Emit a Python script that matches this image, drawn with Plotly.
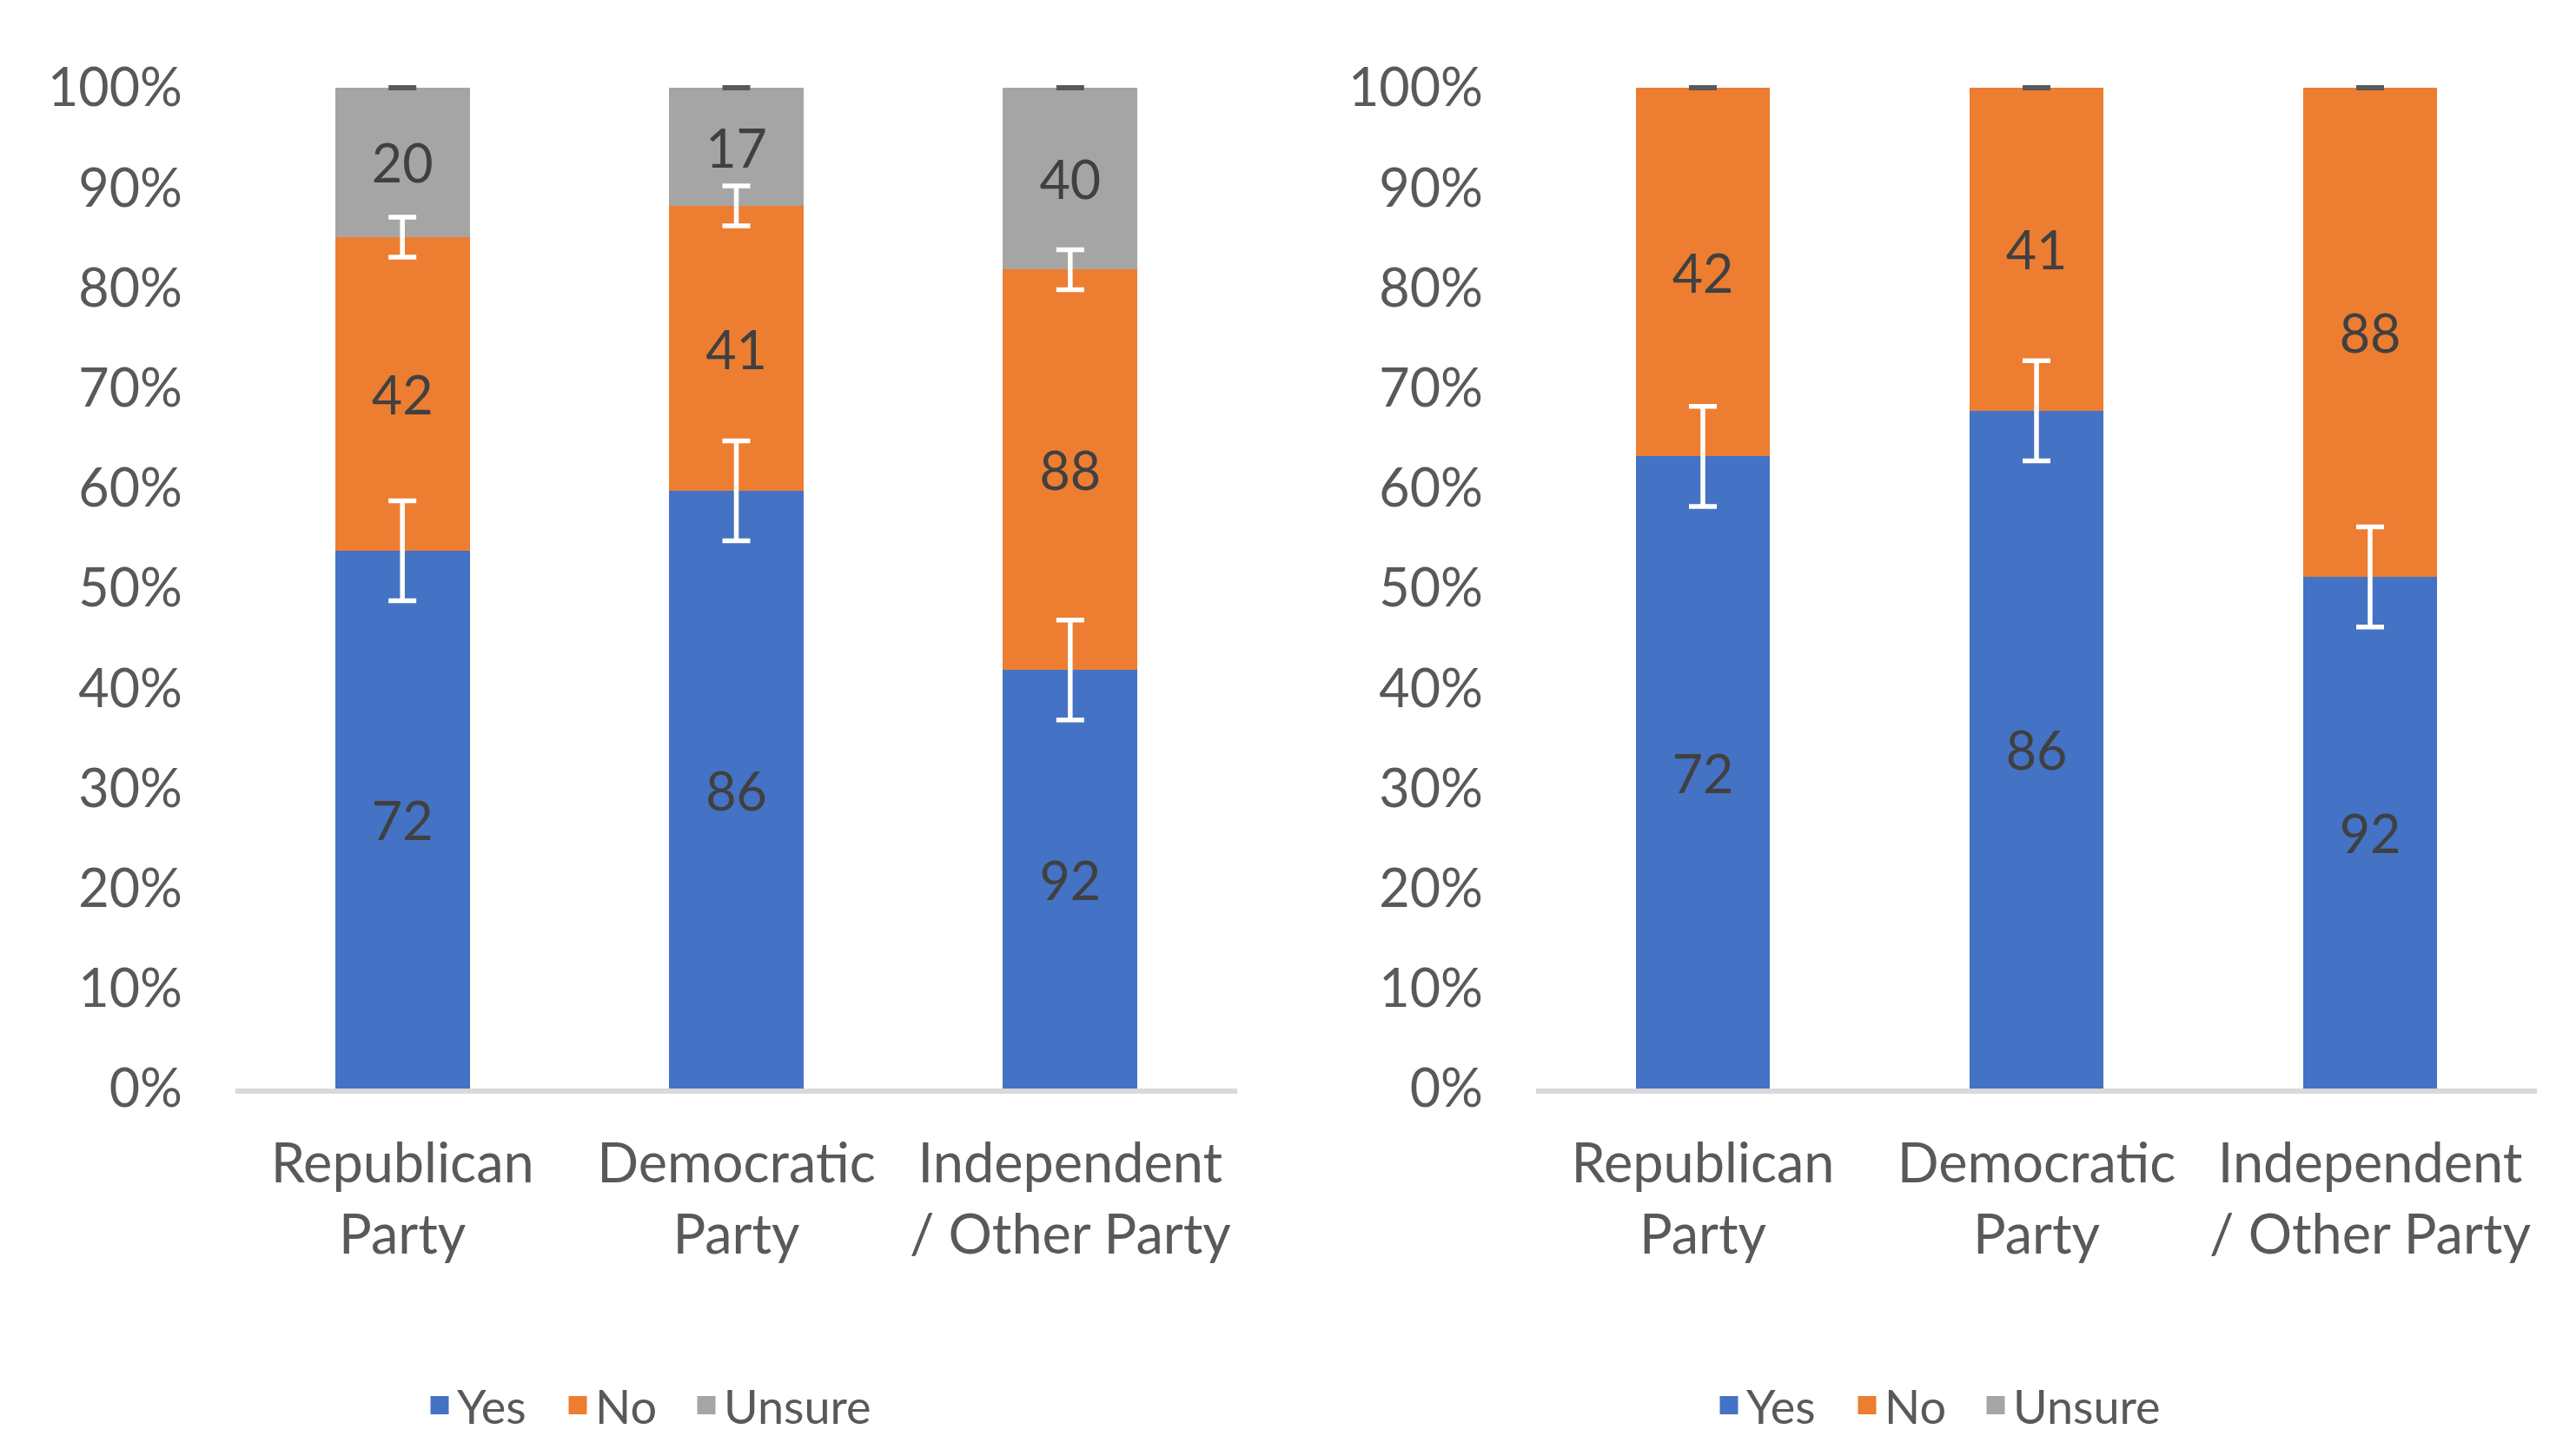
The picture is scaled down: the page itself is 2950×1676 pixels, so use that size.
import plotly.graph_objects as go

# ---------------- data ----------------
categories = ["Republican<br>Party", "Democratic<br>Party", "Independent<br>/ Other Party"]
series_names = ["Yes", "No", "Unsure"]

left_yes = [72, 86, 92]
left_no = [42, 41, 88]
left_unsure = [20, 17, 40]

right_yes = [72, 86, 92]
right_no = [42, 41, 88]
right_unsure = [0, 0, 0]

# error bar half-lengths (share of 100%) per series
left_errors = [0.05, 0.02, 0.0]
right_errors = [0.05, None, 0.0]

y_tick_values = [0.0, 0.1, 0.2, 0.3, 0.4, 0.5, 0.6, 0.7, 0.8, 0.9, 1.0]

# ---------------- styles ----------------
colors = ["#4472C4", "#ED7D31", "#A5A5A5"]
err_colors = ["#FFFFFF", "#FFFFFF", "#595959"]
err_thick = [5.5, 5.5, 6]
legend_widths = [114, 103, None]
FONT = "Lato"
TICK_COLOR = "#595959"
LABEL_COLOR = "#404040"
FS = 61

fig = go.Figure()

panels = [
    ("x", "y", [left_yes, left_no, left_unsure], left_errors, "legend"),
    ("x2", "y2", [right_yes, right_no, right_unsure], right_errors, "legend2"),
]

for xa, ya, series, errs, leg in panels:
    totals = [sum(vals) for vals in zip(*series)]
    cum = [0.0] * len(categories)
    for i, (name, vals) in enumerate(zip(series_names, series)):
        shares = [v / t for v, t in zip(vals, totals)]
        fig.add_trace(go.Bar(
            x=categories, y=shares, name=name,
            marker=dict(color=colors[i], line=dict(width=0)),
            text=[str(v) if v else "" for v in vals],
            textposition="inside", insidetextanchor="middle", textangle=0,
            textfont=dict(family=FONT, size=FS, color=LABEL_COLOR),
            showlegend=False, hoverinfo="skip",
            xaxis=xa, yaxis=ya,
        ))
        cum = [c + s for c, s in zip(cum, shares)]
        if errs[i] is not None:
            fig.add_trace(go.Scatter(
                x=categories, y=cum, mode="markers",
                marker=dict(size=1, color="rgba(0,0,0,0)"),
                error_y=dict(type="data", array=[errs[i]] * len(categories),
                             symmetric=True, color=err_colors[i],
                             thickness=err_thick[i], width=16),
                showlegend=False, hoverinfo="skip",
                xaxis=xa, yaxis=ya,
            ))
    # legend entries
    for i, name in enumerate(series_names):
        extra = {"legendwidth": legend_widths[i]} if legend_widths[i] else {}
        fig.add_trace(go.Scatter(
            x=[None], y=[None], mode="markers", name=name,
            marker=dict(symbol="square", size=16, color=colors[i],
                        line=dict(color=colors[i], width=5)),
            legend=leg, showlegend=True, xaxis=xa, yaxis=ya, **extra,
        ))

W, H = 2950, 1676
Y0_PX, Y100_PX = 1245, 93
ytop_px = Y100_PX - 0.01 * (Y0_PX - Y100_PX)
ydom = [1 - Y0_PX / H, 1 - ytop_px / H]

axis_common_x = dict(
    showline=True, linecolor="#D9D9D9", linewidth=6, ticks="",
    showgrid=False, zeroline=False, automargin=False,
    tickfont=dict(family=FONT, size=63, color=TICK_COLOR),
    ticklabelstandoff=26, fixedrange=True,
)
axis_common_y = dict(
    range=[0, 1.01], tickvals=y_tick_values, tickformat=".0%",
    showline=False, showgrid=False, zeroline=False, ticks="",
    automargin=False,
    tickfont=dict(family=FONT, size=FS, color=TICK_COLOR),
    ticklabelstandoff=60, fixedrange=True, domain=ydom,
)

legend_common = dict(
    orientation="h", xanchor="left", yanchor="middle",
    xref="container", yref="container", y=1 - 1610 / H,
    font=dict(family=FONT, size=54, color=TICK_COLOR),
    itemwidth=30, bgcolor="rgba(0,0,0,0)", traceorder="normal",
)

fig.update_layout(
    width=W, height=H,
    margin=dict(l=0, r=0, t=0, b=0, autoexpand=False),
    paper_bgcolor="white", plot_bgcolor="white",
    barmode="stack", bargap=0.597,
    font=dict(family=FONT, color=TICK_COLOR),
    xaxis=dict(domain=[263 / W, 1416 / W], anchor="y", **axis_common_x),
    yaxis=dict(anchor="x", **axis_common_y),
    xaxis2=dict(domain=[1760 / W, 2912 / W], anchor="y2", **axis_common_x),
    yaxis2=dict(anchor="x2", **axis_common_y),
    legend=dict(x=478 / W, **legend_common),
    legend2=dict(x=1962 / W, **legend_common),
)

fig.write_html("out.html")
